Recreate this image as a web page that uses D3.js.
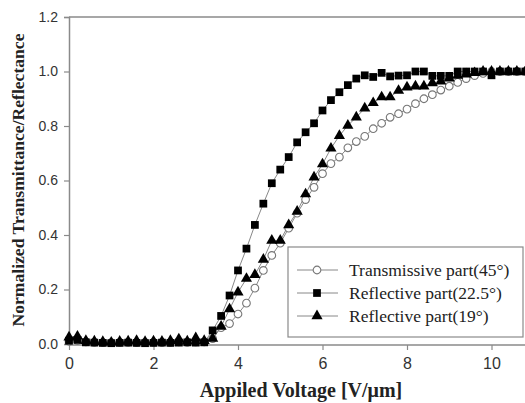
<!DOCTYPE html>
<html>
<head>
<meta charset="utf-8">
<script src="https://cdn.jsdelivr.net/npm/d3@7"></script>
<style>
  body { margin: 0; background: #fff; }
  svg { display: block; }
</style>
</head>
<body>
<svg id="chart" width="525" height="403"></svg>
<script>
// applied field (V/um), one sample every 0.2
const voltage = [0, 0.2, 0.4, 0.6, 0.8, 1.0, 1.2, 1.4, 1.6, 1.8, 2.0, 2.2, 2.4, 2.6, 2.8, 3.0, 3.2,
  3.4, 3.6, 3.8, 4.0, 4.2, 4.4, 4.6, 4.8, 5.0, 5.2, 5.4, 5.6, 5.8, 6.0, 6.2, 6.4, 6.6, 6.8, 7.0,
  7.2, 7.4, 7.6, 7.8, 8.0, 8.2, 8.4, 8.6, 8.8, 9.0, 9.2, 9.4, 9.6, 9.8, 10.0, 10.2, 10.4, 10.6, 10.8];

const transmissive45 = [0.01, 0.012, 0.008, 0.006, 0.005, 0.005, 0.006, 0.006, 0.005, 0.006, 0.006, 0.005, 0.006, 0.008, 0.006, 0.008, 0.008,
  0.02, 0.06, 0.075, 0.11, 0.15, 0.205, 0.27, 0.325, 0.37, 0.425, 0.48, 0.53, 0.575, 0.625, 0.662, 0.686, 0.72, 0.743, 0.762,
  0.79, 0.81, 0.832, 0.845, 0.862, 0.882, 0.9, 0.915, 0.932, 0.946, 0.96, 0.974, 0.985, 0.993, 1.0, 1.0, 1.0, 1.0, 1.0];

const reflective225 = [0.012, 0.015, 0.006, 0.005, 0.004, 0.003, 0.004, 0.005, 0.004, 0.003, 0.004, 0.005, 0.004, 0.005, 0.006, 0.005, 0.006,
  0.05, 0.103, 0.178, 0.27, 0.35, 0.437, 0.515, 0.59, 0.64, 0.686, 0.74, 0.777, 0.81, 0.857, 0.895, 0.924, 0.95, 0.974, 0.986,
  0.98, 0.995, 0.982, 0.985, 0.986, 1.0, 1.0, 0.984, 0.984, 0.984, 1.0, 1.0, 1.0, 1.0, 0.986, 1.0, 1.0, 1.0, 1.0];

const reflective19 = [0.025, 0.028, 0.012, 0.01, 0.008, 0.006, 0.009, 0.01, 0.012, 0.008, 0.01, 0.009, 0.012, 0.018, 0.01, 0.022, 0.012,
  0.02, 0.064, 0.128, 0.19, 0.24, 0.254, 0.31, 0.38, 0.38, 0.437, 0.486, 0.55, 0.612, 0.66, 0.718, 0.764, 0.802, 0.832, 0.865,
  0.885, 0.906, 0.906, 0.93, 0.942, 0.946, 0.946, 0.958, 0.964, 0.975, 0.985, 0.99, 0.995, 1.0, 1.0, 1.0, 1.0, 1.0, 1.0];

const seriesNames = ["Transmissive part(45\u00b0)", "Reflective part(22.5\u00b0)", "Reflective part(19\u00b0)"];
const xTicks = [0, 2, 4, 6, 8, 10];
const yTicks = [0, 0.2, 0.4, 0.6, 0.8, 1.0, 1.2];

const svg = d3.select("#chart");
const plotLeft = 69, plotTop = 17, plotBottom = 344;
const x = d3.scaleLinear().domain([0, 10.8]).range([plotLeft, plotLeft + 42.25 * 10.8]);
const y = d3.scaleLinear().domain([0, 1.2]).range([plotBottom, plotTop]);

const axisColor = "#8a8a8a";
const serif = "'Liberation Serif', 'Times New Roman', serif";

// frame top line
svg.append("line")
  .attr("x1", plotLeft).attr("x2", 525).attr("y1", plotTop).attr("y2", plotTop)
  .attr("stroke", axisColor).attr("stroke-width", 1.5);

const yAxis = svg.append("g")
  .attr("transform", `translate(${plotLeft},0)`)
  .call(d3.axisLeft(y).tickValues(yTicks).tickFormat(d3.format(".1f")).tickSizeOuter(0).tickSize(5).tickPadding(6));

const xAxis = svg.append("g")
  .attr("transform", `translate(0,${plotBottom + 1})`)
  .call(d3.axisBottom(x).tickValues(xTicks).tickFormat(d3.format("d")).tickSizeOuter(0).tickSize(5).tickPadding(8));

[yAxis, xAxis].forEach(g => {
  g.select(".domain").attr("stroke", axisColor).attr("stroke-width", 1.5);
  g.selectAll(".tick line").attr("stroke", axisColor).attr("stroke-width", 1.2);
  g.selectAll(".tick text").attr("fill", "#333").attr("font-family", "Arial, 'Liberation Sans', sans-serif");
});
yAxis.selectAll(".tick text").attr("font-size", 14);
xAxis.selectAll(".tick text").attr("font-size", 16);
xAxis.select(".domain").attr("d", `M${plotLeft},0H525`);

// titles
svg.append("text")
  .attr("x", 301).attr("y", 397)
  .attr("text-anchor", "middle")
  .attr("font-family", serif)
  .attr("font-weight", "bold").attr("font-size", 20).attr("fill", "#222")
  .text("Appiled Voltage [V/\u03bcm]");

svg.append("text")
  .attr("transform", "translate(24,180) rotate(-90)")
  .attr("text-anchor", "middle")
  .attr("font-family", serif)
  .attr("font-weight", "bold").attr("font-size", 17.6).attr("fill", "#222")
  .text("Normalized Transmittance/Reflectance");

svg.append("clipPath").attr("id", "plot")
  .append("rect").attr("x", plotLeft - 6).attr("y", plotTop - 6).attr("width", 525 - plotLeft + 6).attr("height", plotBottom - plotTop + 12);

const plot = svg.append("g").attr("clip-path", "url(#plot)");

const series = [
  { name: seriesNames[0], values: transmissive45, shape: "circle" },
  { name: seriesNames[1], values: reflective225, shape: "square" },
  { name: seriesNames[2], values: reflective19, shape: "triangle" }
];

const symbolFor = {
  circle: d3.symbol().type(d3.symbolCircle).size(46),
  square: d3.symbol().type(d3.symbolSquare).size(60),
  triangle: d3.symbol().type(d3.symbolTriangle).size(54)
};

function styleMarker(sel, shape) {
  if (shape === "circle") {
    sel.attr("fill", "#fff").attr("stroke", "#777").attr("stroke-width", 1.1);
  } else {
    sel.attr("fill", "#000").attr("stroke", "none");
  }
}

const line = d3.line().x((d, i) => x(voltage[i])).y(d => y(d));

series.forEach(s => {
  plot.append("path")
    .datum(s.values)
    .attr("d", line)
    .attr("fill", "none")
    .attr("stroke", "#888")
    .attr("stroke-width", 1);
});

series.forEach(s => {
  plot.append("g").selectAll("path")
    .data(s.values)
    .join("path")
    .attr("transform", (d, i) => `translate(${x(voltage[i])},${y(d)})`)
    .attr("d", symbolFor[s.shape]())
    .call(styleMarker, s.shape);
});

// legend
const legend = svg.append("g");
legend.append("rect")
  .attr("x", 288).attr("y", 247).attr("width", 235).attr("height", 90)
  .attr("fill", "#fff").attr("stroke", axisColor).attr("stroke-width", 1.2);

series.forEach((s, i) => {
  const ly = 270 + i * 23;
  legend.append("line")
    .attr("x1", 297).attr("x2", 338).attr("y1", ly).attr("y2", ly)
    .attr("stroke", "#888").attr("stroke-width", 1);
  legend.append("path")
    .attr("transform", `translate(317,${ly})`)
    .attr("d", symbolFor[s.shape]())
    .call(styleMarker, s.shape);
  legend.append("text")
    .attr("x", 349).attr("y", ly + 5.5)
    .attr("font-family", serif)
    .attr("font-size", 17.5).attr("fill", "#222")
    .text(s.name);
});
</script>
</body>
</html>
